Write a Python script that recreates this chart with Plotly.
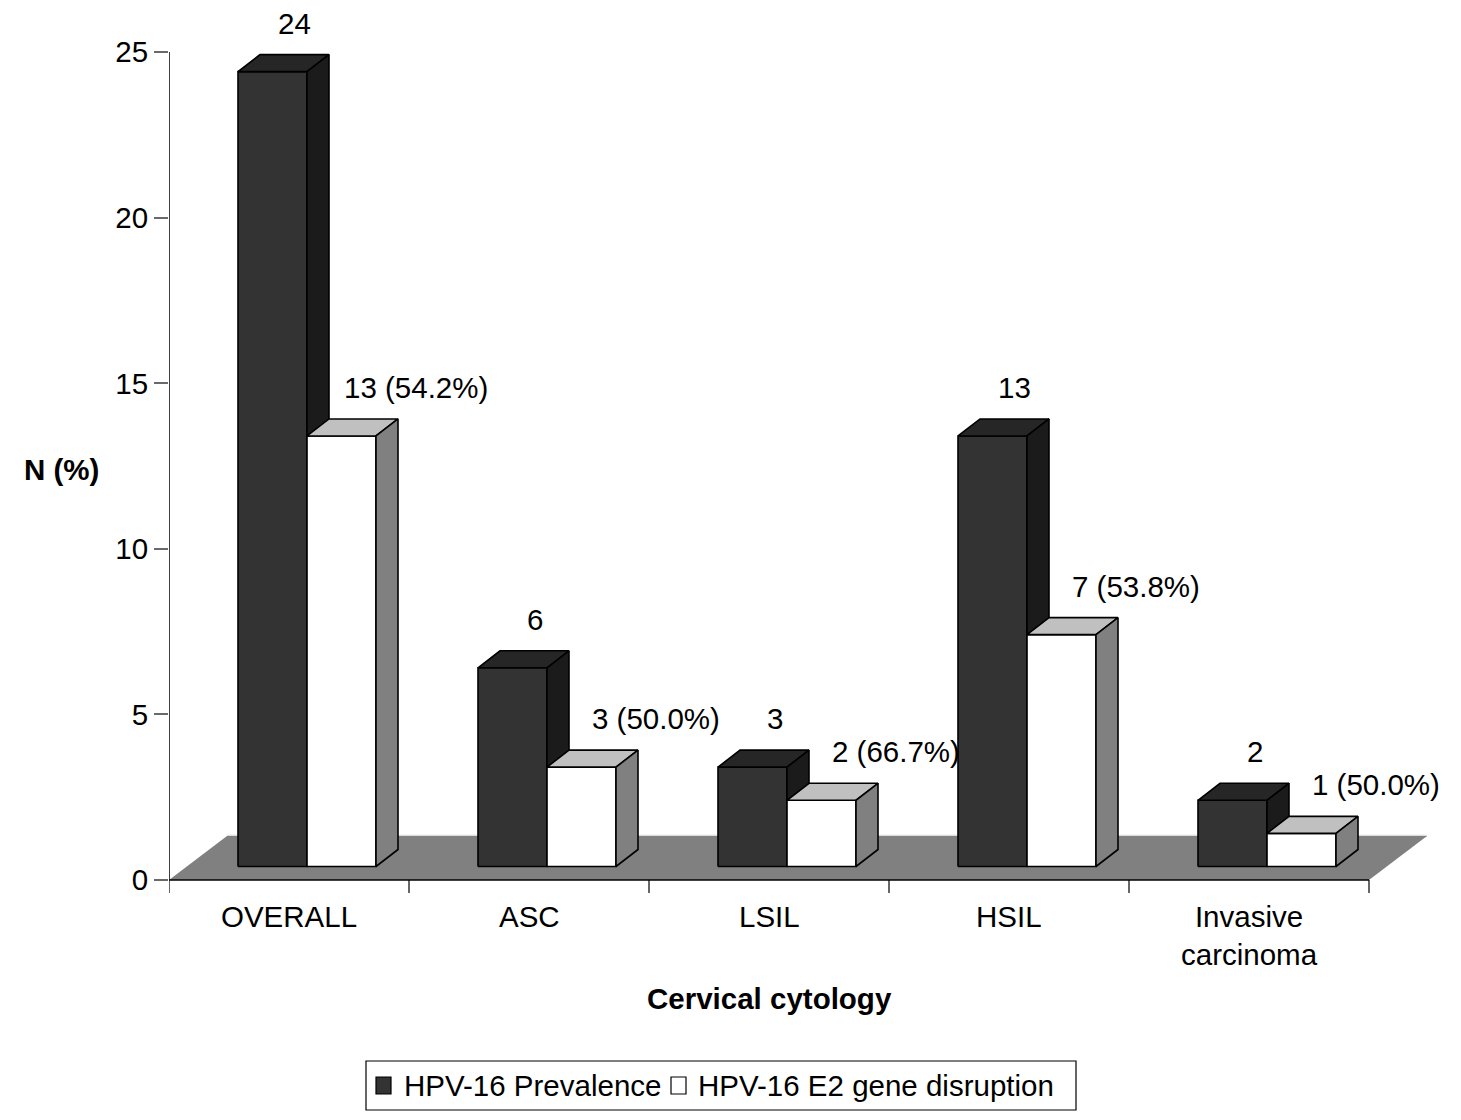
import plotly.graph_objects as go

# ---- data -------------------------------------------------------------
categories = ["OVERALL", "ASC", "LSIL", "HSIL", "Invasive<br>carcinoma"]
prevalence = [24, 6, 3, 13, 2]          # HPV-16 prevalence (N)
e2_disruption = [13, 3, 2, 7, 1]        # HPV-16 E2 gene disruption (N)
y_ticks = [0, 5, 10, 15, 20, 25]
series_names = ["HPV-16 Prevalence", "HPV-16 E2 gene disruption"]
x_title = "Cervical cytology"
y_title = "N (%)"

# ---- page / axis geometry ---------------------------------------------
FONT = "Liberation Sans, Arial, Helvetica, sans-serif"
FS = 29.5
W, H = 1461, 1120
ML, MR, MT, MB = 169, 0, 10, 220
PX_X = 240.0            # pixels per category slot
PX_Y = 33.12            # pixels per count unit
ZERO_PX = 880           # vertical pixel of the value 0
PLOT_W = W - ML - MR
PLOT_H = H - MT - MB
N = len(categories)

x_range = [0, PLOT_W / PX_X]
y_range = [-(H - MB - ZERO_PX) / PX_Y, (ZERO_PX - MT) / PX_Y]

# 3-D projection offsets (in axis units)
FLOOR_DX, FLOOR_DY = 58 / PX_X, 44 / PX_Y     # full depth of the floor
BAR_DX, BAR_DY = 22 / PX_X, 17 / PX_Y         # depth of each column
OFF_DX, OFF_DY = 18 / PX_X, 13.5 / PX_Y       # columns sit mid-depth
BAR_W = 69 / PX_X
LABEL_GAP = 0.95
WHITE_LABEL_SHIFT = 52 / PX_X

STYLES = [
    dict(front="#333333", top="#262626", side="#1b1b1b"),
    dict(front="#ffffff", top="#c0c0c0", side="#808080"),
]


def px_to_paper(px, py):
    return (px - ML) / PLOT_W, (H - MB - py) / PLOT_H


def poly_trace(polys, fill, line_w=1.6, line_c="#000000"):
    xs, ys = [], []
    for p in polys:
        for (x, y) in p + [p[0]]:
            xs.append(x)
            ys.append(y)
        xs.append(None)
        ys.append(None)
    return go.Scatter(
        x=xs, y=ys, mode="lines", fill="toself", fillcolor=fill,
        line=dict(color=line_c, width=line_w), hoverinfo="skip",
        showlegend=False,
    )


fig = go.Figure()

# faint back-wall edge, then the floor
fig.add_trace(go.Scatter(
    x=[FLOOR_DX, N + FLOOR_DX], y=[FLOOR_DY, FLOOR_DY], mode="lines",
    line=dict(color="#dcdcdc", width=2.5), hoverinfo="skip", showlegend=False))
floor = [(0, 0), (N, 0), (N + FLOOR_DX, FLOOR_DY), (FLOOR_DX, FLOOR_DY)]
fig.add_trace(poly_trace([floor], "#808080", line_w=0, line_c="rgba(0,0,0,0)"))

# axis lines and category ticks
fig.add_trace(go.Scatter(x=[0, 0], y=[0, y_ticks[-1]], mode="lines",
                         line=dict(color="#000000", width=1.5),
                         hoverinfo="skip", showlegend=False))
fig.add_trace(go.Scatter(x=[0, N], y=[0, 0], mode="lines",
                         line=dict(color="#000000", width=1.5),
                         hoverinfo="skip", showlegend=False))
tx, ty = [], []
for k in range(N + 1):
    tx += [k, k, None]
    ty += [0, -13 / PX_Y, None]
fig.add_trace(go.Scatter(x=tx, y=ty, mode="lines",
                         line=dict(color="#000000", width=1.2),
                         hoverinfo="skip", showlegend=False))

# 3-D columns: front, top and side faces for each series
annotations = []
for s, values in enumerate([prevalence, e2_disruption]):
    fronts, tops, sides = [], [], []
    for i, v in enumerate(values):
        centre = i + 0.5 + OFF_DX
        x0 = centre - BAR_W + s * BAR_W
        x1 = x0 + BAR_W
        base = OFF_DY
        top = OFF_DY + v
        fronts.append([(x0, base), (x1, base), (x1, top), (x0, top)])
        tops.append([(x0, top), (x1, top), (x1 + BAR_DX, top + BAR_DY),
                     (x0 + BAR_DX, top + BAR_DY)])
        sides.append([(x1, base), (x1 + BAR_DX, base + BAR_DY),
                      (x1 + BAR_DX, top + BAR_DY), (x1, top)])

        if s == 0:
            text = f"{v}"
            lx = (x0 + x1) / 2 + BAR_DX
        else:
            text = f"{v} ({v / prevalence[i] * 100:.1f}%)"
            lx = (x0 + x1) / 2 + BAR_DX + WHITE_LABEL_SHIFT
        annotations.append(dict(
            x=lx, y=top + BAR_DY + LABEL_GAP, xref="x", yref="y",
            text=text, showarrow=False, xanchor="center", yanchor="middle",
            font=dict(family=FONT, size=FS, color="#000000")))
    st = STYLES[s]
    fig.add_trace(poly_trace(fronts, st["front"]))
    fig.add_trace(poly_trace(tops, st["top"]))
    fig.add_trace(poly_trace(sides, st["side"]))

# category labels
_, cat_y = px_to_paper(0, 898)
for i, c in enumerate(categories):
    annotations.append(dict(
        x=i + 0.5, y=cat_y, xref="x", yref="paper", text=c, showarrow=False,
        xanchor="center", yanchor="top",
        font=dict(family=FONT, size=FS, color="#000000")))

# axis titles
tx_p, ty_p = px_to_paper(0, 998)
annotations.append(dict(
    x=N / 2, y=ty_p, xref="x", yref="paper", text=f"<b>{x_title}</b>",
    showarrow=False, xanchor="center", yanchor="middle",
    font=dict(family=FONT, size=FS, color="#000000")))
yx_p, yy_p = px_to_paper(61, 470)
annotations.append(dict(
    x=yx_p, y=yy_p, xref="paper", yref="paper", text=f"<b>{y_title}</b>",
    showarrow=False, xanchor="center", yanchor="middle",
    font=dict(family=FONT, size=FS, color="#000000")))

# legend box with two swatches
shapes = []
bx0, by0 = px_to_paper(366, 1110)
bx1, by1 = px_to_paper(1076, 1061)
shapes.append(dict(type="rect", xref="paper", yref="paper", x0=bx0, y0=by0,
                   x1=bx1, y1=by1, line=dict(color="#000000", width=1.2),
                   fillcolor="#ffffff"))
legend_items = [(376, 402, STYLES[0]["front"]), (671, 696, STYLES[1]["front"])]
for (sx, txp, col), name in zip(legend_items, series_names):
    ax0, ay0 = px_to_paper(sx, 1094)
    ax1, ay1 = px_to_paper(sx + 15, 1077)
    shapes.append(dict(type="rect", xref="paper", yref="paper", x0=ax0,
                       y0=ay0, x1=ax1, y1=ay1,
                       line=dict(color="#000000", width=1.2), fillcolor=col))
    lx, ly = px_to_paper(txp, 1085)
    annotations.append(dict(
        x=lx, y=ly, xref="paper", yref="paper", text=name, showarrow=False,
        xanchor="left", yanchor="middle",
        font=dict(family=FONT, size=FS, color="#000000")))

fig.update_layout(
    width=W, height=H, autosize=False,
    margin=dict(l=ML, r=MR, t=MT, b=MB, pad=0),
    paper_bgcolor="#ffffff", plot_bgcolor="#ffffff",
    showlegend=False,
    font=dict(family=FONT, size=FS, color="#000000"),
    xaxis=dict(range=x_range, showgrid=False, zeroline=False,
               showline=False, showticklabels=False, ticks="",
               fixedrange=True),
    yaxis=dict(range=y_range, tickvals=y_ticks,
               ticktext=[str(t) for t in y_ticks], ticks="outside",
               ticklen=14, tickwidth=1.5, tickcolor="#6a6a6a",
               showgrid=False, zeroline=False, showline=False,
               tickfont=dict(family=FONT, size=FS, color="#000000"),
               fixedrange=True),
    annotations=annotations,
    shapes=shapes,
)

fig.write_html("out.html")
